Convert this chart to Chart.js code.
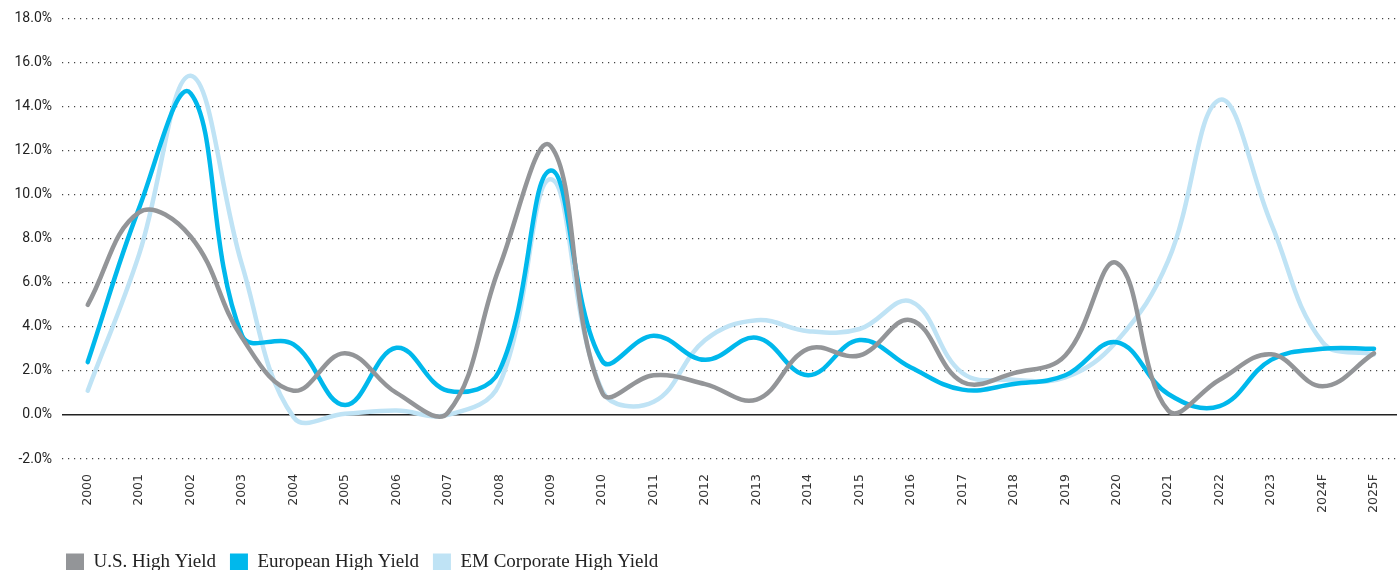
<!DOCTYPE html>
<html>
<head>
<meta charset="utf-8">
<script src="https://cdn.jsdelivr.net/npm/chart.js@4.4.1/dist/chart.umd.min.js"></script>
<style>
  html, body { margin: 0; padding: 0; background: #fff; overflow: hidden; }
  #wrap { position: relative; width: 1404px; height: 582px; }
</style>
</head>
<body>
<div id="wrap"><canvas id="myChart"></canvas></div>
<script>
// roky na osi X
const years = ['2000', '2001', '2002', '2003', '2004', '2005', '2006', '2007', '2008', '2009',
    '2010', '2011', '2012', '2013', '2014', '2015', '2016', '2017', '2018', '2019',
    '2020', '2021', '2022', '2023', '2024F', '2025F'];

// hodnoty v % odčítané z obrázka
const usHighYield = [5.0, 9.2, 8.1, 3.5, 1.1, 2.8, 1.0, 0.1, 6.7, 12.2,
    1.0, 1.8, 1.4, 0.7, 3.0, 2.7, 4.3, 1.5, 1.9, 2.7,
    6.9, 0.2, 1.6, 2.75, 1.3, 2.8];
const europeanHighYield = [2.4, 9.4, 14.6, 3.6, 3.2, 0.45, 3.05, 1.1, 2.0, 11.1,
    2.45, 3.6, 2.5, 3.5, 1.8, 3.4, 2.15, 1.15, 1.4, 1.8,
    3.3, 0.95, 0.4, 2.5, 3.0, 3.0];
const emCorporateHighYield = [1.1, 7.3, 15.4, 6.8, -0.1, 0.05, 0.2, 0.0, 1.4, 10.7,
    1.1, 0.6, 3.4, 4.3, 3.8, 3.9, 5.15, 1.9, 1.6, 1.7,
    3.35, 7.0, 14.3, 8.7, 3.3, 2.75];

// tick hodnoty osi Y
const yMin = -2;
const yMax = 18;
const yStep = 2;

const seriesNames = ['U.S. High Yield', 'European High Yield', 'EM Corporate High Yield'];
const seriesColors = ['#939598', '#00b8ec', '#bfe3f5'];
const seriesData = [usHighYield, europeanHighYield, emCorporateHighYield];

const datasets = seriesData.map((values, i) => ({
    label: seriesNames[i],
    data: values,
    borderColor: seriesColors[i],
    backgroundColor: seriesColors[i],
    borderWidth: 4.5,
    borderCapStyle: 'round',
    pointRadius: 0,
    pointHoverRadius: 0,
    fill: false,
    tension: 0.4
}));

// legenda začína pod osou Y, nie na kraji plátna
const shiftLegend = {
    id: 'shiftLegend',
    afterLayout(chart) {
        if (chart.legend) chart.legend.left = 52;
    }
};

const ctx = document.getElementById('myChart').getContext('2d');
new Chart(ctx, {
    type: 'line',
    data: { labels: years, datasets: datasets },
    plugins: [shiftLegend],
    options: {
        responsive: true,
        maintainAspectRatio: false,
        animation: false,
        layout: { padding: { left: 0, top: 18, right: 0, bottom: 0 } },
        plugins: {
            tooltip: { enabled: false },
            legend: {
                display: true,
                position: 'bottom',
                align: 'start',
                labels: {
                    boxWidth: 18,
                    boxHeight: 18,
                    padding: 14,
                    color: '#222',
                    font: { family: '"Liberation Serif", serif', size: 19 },
                    generateLabels: function(chart) {
                        const items = Chart.defaults.plugins.legend.labels.generateLabels(chart);
                        items.forEach(it => { it.lineWidth = 0; it.strokeStyle = 'transparent'; });
                        return items;
                    }
                }
            }
        },
        scales: {
            x: {
                offset: true,
                grid: { display: false, drawTicks: false },
                border: { display: false },
                ticks: {
                    minRotation: 90,
                    maxRotation: 90,
                    padding: 15,
                    autoSkip: false,
                    color: '#333',
                    font: { family: '"DejaVu Sans", sans-serif', size: 12.5 }
                },
                afterFit: function(scale) { scale.height = 80; }
            },
            y: {
                min: yMin,
                max: yMax,
                ticks: {
                    stepSize: yStep,
                    padding: 10,
                    color: '#222',
                    font: { family: 'Roboto, sans-serif', size: 14 },
                    callback: value => value.toFixed(1) + '%'
                },
                grid: {
                    drawTicks: false,
                    color: c => c.tick && c.tick.value === 0 ? '#222' : '#444',
                    lineWidth: c => c.tick && c.tick.value === 0 ? 1.5 : 1.2
                },
                border: {
                    display: false,
                    dash: c => c.tick && c.tick.value === 0 ? [] : [1.2, 4.8]
                },
                afterFit: function(scale) { scale.width = 62; }
            }
        }
    }
});
</script>
</body>
</html>
